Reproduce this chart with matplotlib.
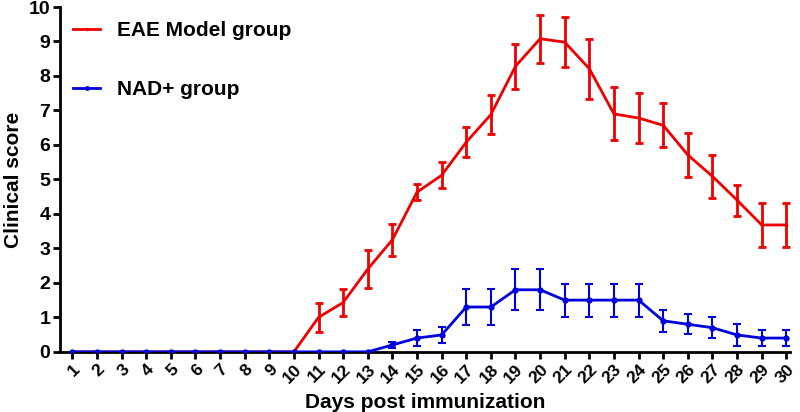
import matplotlib
matplotlib.use("Agg")
import matplotlib.pyplot as plt
from matplotlib.lines import Line2D
import numpy as np

plt.rcParams['font.family'] = ['Liberation Sans', 'DejaVu Sans']
plt.rcParams['font.weight'] = 'bold'

days = list(range(1, 31))
eae_mean = [0]*10 + [1.0, 1.43, 2.40, 3.25, 4.63, 5.12, 6.08, 6.88, 8.28, 9.08,
                     8.98, 8.21, 6.90, 6.78, 6.57, 5.71, 5.09, 4.40, 3.68, 3.68]
eae_err = [0]*10 + [0.43, 0.38, 0.55, 0.46, 0.23, 0.38, 0.44, 0.57, 0.65, 0.69,
                    0.72, 0.87, 0.77, 0.72, 0.64, 0.65, 0.63, 0.45, 0.64, 0.64]
nad_mean = [0]*13 + [0.2, 0.40, 0.49, 1.30, 1.30, 1.80, 1.80, 1.50, 1.50, 1.50, 1.50,
                     0.90, 0.80, 0.70, 0.49, 0.40, 0.40]
nad_err = [0]*13 + [0.1, 0.22, 0.22, 0.52, 0.52, 0.60, 0.60, 0.48, 0.48, 0.48, 0.48,
                    0.31, 0.29, 0.30, 0.32, 0.22, 0.22]
labels = ['EAE Model group', 'NAD+ group']
red = '#ee0000'
blue = '#0000dd'

fig = plt.figure(figsize=(8, 4.12), dpi=100)
ax = fig.add_axes([0.075, 0.146, 0.9125, 0.837])

ax.errorbar(days, eae_mean, yerr=[e if e > 0 else np.nan for e in eae_err], color=red,
            lw=2, marker='.', ms=3, capsize=3, capthick=2, elinewidth=2, zorder=3)
ax.errorbar(days, nad_mean, yerr=[e if e > 0 else np.nan for e in nad_err], color=blue,
            lw=2, marker='o', ms=3.5, capsize=3, capthick=1.5, elinewidth=1.5, zorder=4)

ax.set_xlim(0.5, 30.15)
ax.set_ylim(0, 10)
ax.set_yticks(range(0, 11))
ax.set_xticks(days)
ax.set_xticklabels([str(d) for d in days], rotation=45, ha='right', rotation_mode='anchor',
                   fontsize=12.5, fontweight='bold')
for lab in ax.get_yticklabels():
    lab.set_fontsize(14)
    lab.set_fontweight('bold')
ax.spines['top'].set_visible(False)
ax.spines['right'].set_visible(False)
ax.spines['left'].set_linewidth(2)
ax.spines['bottom'].set_linewidth(2)
ax.tick_params(axis='both', width=2, length=5, direction='out')
ax.tick_params(axis='x', pad=2)
ax.tick_params(axis='y', pad=2)

ax.set_xlabel('Days post immunization', fontsize=15, fontweight='bold', labelpad=5)
ax.set_ylabel('Clinical score', fontsize=15, fontweight='bold', labelpad=4)

handles = [Line2D([], [], color=red, lw=2, marker='.', ms=3),
           Line2D([], [], color=blue, lw=2, marker='o', ms=2.5)]
ax.legend(handles, labels, loc='upper left', bbox_to_anchor=(0.018, 0.958), frameon=False,
          prop={'size': 15, 'weight': 'bold'}, labelspacing=1.9,
          handlelength=1.3, handletextpad=0.8, borderaxespad=0, borderpad=0)

fig.savefig('out.png', dpi=100)
